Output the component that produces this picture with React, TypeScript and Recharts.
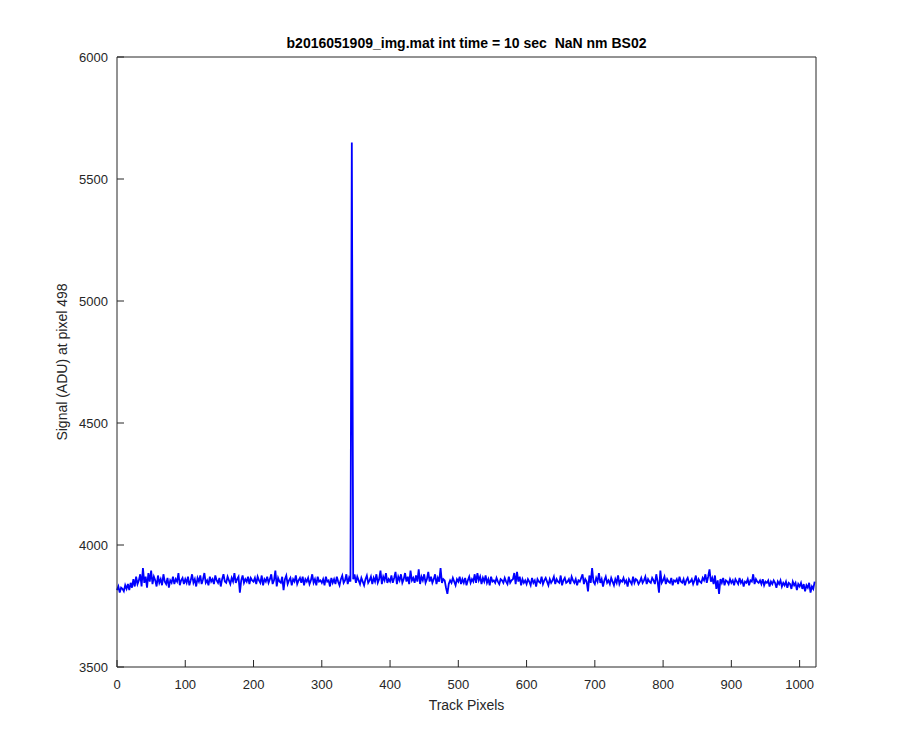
import React from "react";
import { LineChart, Line, XAxis, YAxis } from "recharts";

const TITLE = "b2016051909_img.mat int time = 10 sec  NaN nm BS02";
const X_LABEL = "Track Pixels";
const Y_LABEL = "Signal (ADU) at pixel 498";

const X_TICKS = [0, 100, 200, 300, 400, 500, 600, 700, 800, 900, 1000];
const Y_TICKS = [3500, 4000, 4500, 5000, 5500, 6000];
const PIXEL_STEP = 2;

// signal, one value every 2 track pixels
const seg000 = [
  3815, 3830, 3805, 3825, 3820, 3810, 3835, 3820, 3840, 3815,
  3845, 3825, 3860, 3830, 3870, 3840, 3855, 3880, 3830, 3905,
  3845, 3870, 3825, 3885, 3850, 3895, 3840, 3870, 3855, 3830,
  3875, 3845, 3860, 3835, 3880, 3850, 3840, 3865, 3825, 3855,
  3845, 3870, 3840, 3860, 3850, 3885, 3835, 3855, 3865, 3840,
];
const seg100 = [
  3860, 3845, 3870, 3835, 3855, 3880, 3845, 3860, 3830, 3865,
  3850, 3875, 3840, 3860, 3885, 3845, 3855, 3835, 3870, 3850,
  3860, 3840, 3875, 3855, 3845, 3865, 3830, 3860, 3880, 3850,
  3845, 3870, 3855, 3840, 3865, 3850, 3885, 3845, 3860, 3870,
  3805, 3855, 3875, 3845, 3860, 3850, 3870, 3840, 3865, 3855,
];
const seg200 = [
  3850, 3865, 3840, 3870, 3855, 3845, 3875, 3835, 3860, 3850,
  3870, 3845, 3860, 3880, 3840, 3855, 3895, 3830, 3865, 3850,
  3845, 3870, 3815, 3860, 3875, 3840, 3855, 3865, 3835, 3860,
  3850, 3875, 3840, 3855, 3865, 3845, 3870, 3835, 3860, 3850,
  3865, 3840, 3855, 3880, 3845, 3860, 3835, 3870, 3850, 3855,
];
const seg300 = [
  3845, 3860, 3835, 3870, 3850, 3855, 3830, 3865, 3845, 3860,
  3840, 3870, 3850, 3835, 3860, 3875, 3845, 3855, 3880, 3840,
  3865, 3850, 5650, 3860, 3880, 3845, 3870, 3855, 3840, 3865,
  3850, 3835, 3860, 3875, 3845, 3855, 3870, 3840, 3865, 3850,
  3880, 3845, 3860, 3895, 3840, 3870, 3855, 3885, 3845, 3860,
];
const seg400 = [
  3850, 3875, 3845, 3865, 3890, 3840, 3870, 3855, 3880, 3845,
  3860, 3885, 3850, 3870, 3840, 3895, 3855, 3865, 3845, 3875,
  3850, 3900, 3840, 3870, 3855, 3880, 3845, 3860, 3890, 3850,
  3870, 3845, 3860, 3880, 3840, 3865, 3850, 3905, 3845, 3860,
  3855, 3825, 3800, 3840, 3855, 3845, 3865, 3850, 3835, 3860,
];
const seg500 = [
  3850, 3870, 3840, 3860, 3845, 3865, 3835, 3855, 3870, 3845,
  3860, 3850, 3880, 3845, 3885, 3855, 3870, 3840, 3865, 3850,
  3875, 3845, 3860, 3835, 3870, 3850, 3855, 3845, 3865, 3850,
  3840, 3860, 3855, 3845, 3865, 3850, 3840, 3870, 3845, 3855,
  3860, 3885, 3840, 3890, 3850, 3870, 3835, 3860, 3845, 3855,
];
const seg600 = [
  3840, 3860, 3850, 3835, 3865, 3845, 3855, 3830, 3860, 3850,
  3845, 3870, 3840, 3855, 3865, 3850, 3835, 3860, 3845, 3855,
  3870, 3840, 3860, 3850, 3845, 3875, 3835, 3855, 3865, 3845,
  3850, 3860, 3840, 3870, 3855, 3845, 3860, 3835, 3855, 3850,
  3865, 3880, 3840, 3860, 3850, 3810, 3875, 3845, 3905, 3850,
];
const seg700 = [
  3840, 3865, 3850, 3885, 3845, 3860, 3830, 3855, 3870, 3845,
  3855, 3840, 3865, 3850, 3835, 3860, 3845, 3875, 3840, 3855,
  3850, 3865, 3845, 3855, 3830, 3860, 3850, 3840, 3870, 3845,
  3860, 3855, 3840, 3850, 3865, 3845, 3855, 3870, 3840, 3860,
  3850, 3845, 3865, 3855, 3840, 3880, 3850, 3805, 3895, 3845,
];
const seg800 = [
  3855, 3870, 3840, 3860, 3850, 3845, 3865, 3835, 3855, 3850,
  3860, 3840, 3870, 3850, 3845, 3860, 3835, 3855, 3865, 3845,
  3850, 3860, 3840, 3855, 3875, 3835, 3860, 3850, 3845, 3865,
  3855, 3880, 3845, 3870, 3900, 3850, 3865, 3840, 3875, 3820,
  3855, 3800, 3860, 3845, 3865, 3835, 3855, 3850, 3840, 3860,
];
const seg900 = [
  3845, 3855, 3835, 3860, 3850, 3840, 3865, 3845, 3855, 3830,
  3850, 3845, 3860, 3835, 3855, 3850, 3880, 3840, 3860, 3850,
  3845, 3855, 3840, 3860, 3835, 3850, 3845, 3855, 3830, 3850,
  3840, 3855, 3845, 3825, 3850, 3840, 3855, 3830, 3845, 3835,
  3850, 3825, 3845, 3840, 3820, 3850, 3835, 3845, 3815, 3840,
  3830, 3845, 3820, 3840, 3810, 3835, 3825, 3845, 3805, 3830,
  3820, 3850,
];

const signal = [
  ...seg000, ...seg100, ...seg200, ...seg300, ...seg400,
  ...seg500, ...seg600, ...seg700, ...seg800, ...seg900,
];
const data = signal.map((v, i) => ({ x: i * PIXEL_STEP, v }));

const AXIS = "#262626";
const FONT = '"Liberation Sans", Arial, Helvetica, sans-serif';
const TICK_LEN = 7;
const tickText = { fontSize: 13, fontFamily: FONT, fill: AXIS };

export default function App() {
  return (
    <div style={{ position: "absolute", left: 0, top: 0, width: 900, height: 750, background: "#fff" }}>
      <LineChart width={900} height={750} data={data} margin={{ top: 56, right: 83, bottom: 37, left: 57 }}>
        <XAxis
          xAxisId="bottom"
          orientation="bottom"
          type="number"
          dataKey="x"
          domain={[0, 1024]}
          ticks={X_TICKS}
          interval={0}
          height={46}
          tickSize={TICK_LEN}
          tickMargin={6}
          tick={tickText}
          tickLine={{ stroke: AXIS, transform: `translate(0, -${TICK_LEN})` }}
          axisLine={{ stroke: AXIS }}
          label={{
            content: ({ viewBox }: any) => (
              <text
                x={viewBox.x + viewBox.width / 2}
                y={viewBox.y + 43}
                textAnchor="middle"
                fontSize={14}
                fontFamily={FONT}
                fill={AXIS}
              >
                {X_LABEL}
              </text>
            ),
          }}
        />
        <XAxis
          xAxisId="top"
          orientation="top"
          type="number"
          dataKey="x"
          domain={[0, 1024]}
          ticks={X_TICKS}
          interval={0}
          height={1}
          tickSize={TICK_LEN}
          tick={false}
          tickLine={{ stroke: AXIS, transform: `translate(0, ${TICK_LEN})` }}
          axisLine={{ stroke: AXIS }}
          label={{
            content: ({ viewBox }: any) => (
              <text
                x={viewBox.x + viewBox.width / 2}
                y={viewBox.y - 8}
                textAnchor="middle"
                fontSize={14}
                fontWeight="bold"
                fontFamily={FONT}
                fill="#000"
                style={{ whiteSpace: "pre" }}
              >
                {TITLE}
              </text>
            ),
          }}
        />
        <YAxis
          yAxisId="left"
          orientation="left"
          type="number"
          domain={[3500, 6000]}
          ticks={Y_TICKS}
          interval={0}
          width={60}
          tickSize={TICK_LEN}
          tickMargin={2}
          tick={tickText}
          tickLine={{ stroke: AXIS, transform: `translate(${TICK_LEN}, 0)` }}
          axisLine={{ stroke: AXIS }}
          label={{
            content: ({ viewBox }: any) => {
              const cx = viewBox.x + 10;
              const cy = viewBox.y + viewBox.height / 2;
              return (
                <text
                  x={cx}
                  y={cy}
                  transform={`rotate(-90, ${cx}, ${cy})`}
                  textAnchor="middle"
                  fontSize={14}
                  fontFamily={FONT}
                  fill={AXIS}
                >
                  {Y_LABEL}
                </text>
              );
            },
          }}
        />
        <YAxis
          yAxisId="right"
          orientation="right"
          type="number"
          domain={[3500, 6000]}
          ticks={Y_TICKS}
          interval={0}
          width={1}
          tickSize={TICK_LEN}
          tick={false}
          tickLine={{ stroke: AXIS, transform: `translate(-${TICK_LEN}, 0)` }}
          axisLine={{ stroke: AXIS }}
        />
        <Line
          xAxisId="bottom"
          yAxisId="left"
          type="linear"
          dataKey="v"
          stroke="#0000ff"
          strokeWidth={1.8}
          dot={false}
          isAnimationActive={false}
        />
      </LineChart>
    </div>
  );
}
